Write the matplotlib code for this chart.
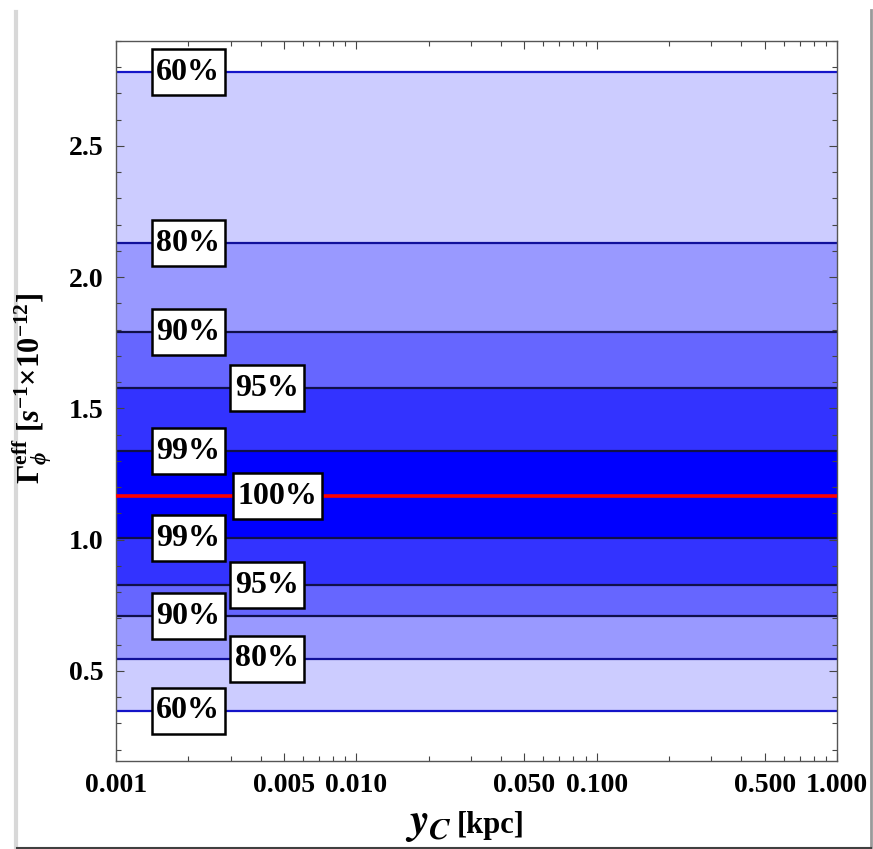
import numpy as np
import matplotlib
matplotlib.use("Agg")
import matplotlib.pyplot as plt
from matplotlib.lines import Line2D
from matplotlib.path import Path
from matplotlib.ticker import FixedLocator, FixedFormatter

plt.rcParams['font.family'] = ['Liberation Serif', 'DejaVu Serif']
plt.rcParams['font.weight'] = 'bold'
plt.rcParams['mathtext.fontset'] = 'custom'
plt.rcParams['mathtext.rm'] = 'Liberation Serif:bold'
plt.rcParams['mathtext.bf'] = 'Liberation Serif:bold'
plt.rcParams['mathtext.it'] = 'Liberation Serif:italic:bold'

# Confidence contours of the effective rate (constant along y_C)
levels = ["60%", "80%", "90%", "95%", "99%"]
upper = [2.781, 2.130, 1.791, 1.578, 1.338]
lower = [0.348, 0.546, 0.709, 0.827, 1.006]
best_fit = 1.166

band_colors = ["#ccccff", "#9999ff", "#6666ff", "#3333ff", "#0000ff"]
line_colors = ["#1414c8", "#10109a", "#10104a", "#10104a", "#10104a"]

# label x-positions (kpc) for upper and lower contour labels
upper_label_x = [0.0020, 0.0020, 0.0020, 0.00425, 0.0020]
lower_label_x = [0.0020, 0.00425, 0.0020, 0.00425, 0.0020]
best_label_x = 0.0047

x_ticks = [0.001, 0.005, 0.010, 0.050, 0.100, 0.500, 1.000]
x_ticklabels = ["0.001", "0.005", "0.010", "0.050", "0.100", "0.500", "1.000"]
y_ticks = [0.5, 1.0, 1.5, 2.0, 2.5]
y_ticklabels = ["0.5", "1.0", "1.5", "2.0", "2.5"]


def label_box(x0, y0, width, height, mutation_size):
    """Rectangle with separate horizontal and vertical padding."""
    px = 0.15 * mutation_size
    py = 0.26 * mutation_size
    x0, y0 = x0 - px, y0 - py
    x1, y1 = x0 + width + 2 * px, y0 + height + 2 * py
    return Path([(x0, y0), (x1, y0), (x1, y1), (x0, y1), (x0, y0)],
                closed=True)


fig = plt.figure(figsize=(8.73, 8.49), dpi=100)
ax = fig.add_axes([116/873, 1 - 761/849, (837-116)/873, (761-41)/849])

xs = np.array([1e-3, 1.0])
for k in range(len(levels)):
    if k + 1 < len(levels):
        ax.fill_between(xs, upper[k + 1], upper[k], color=band_colors[k], lw=0, zorder=1)
        ax.fill_between(xs, lower[k], lower[k + 1], color=band_colors[k], lw=0, zorder=1)
    else:
        ax.fill_between(xs, lower[k], upper[k], color=band_colors[k], lw=0, zorder=1)

for k in range(len(levels)):
    ax.axhline(upper[k], color=line_colors[k], lw=1.6, zorder=2)
    ax.axhline(lower[k], color=line_colors[k], lw=1.6, zorder=2)
ax.axhline(best_fit, color="#ff0000", lw=2.6, zorder=3)

box = dict(boxstyle=label_box, fc="white", ec="black", lw=1.8)
for k, lab in enumerate(levels):
    ax.text(upper_label_x[k], upper[k], lab, fontsize=23, fontweight='bold',
            ha='center', va='center', bbox=box, zorder=5)
    ax.text(lower_label_x[k], lower[k], lab, fontsize=23, fontweight='bold',
            ha='center', va='center', bbox=box, zorder=5)
ax.text(best_label_x, best_fit, "100%", fontsize=23, fontweight='bold',
        ha='center', va='center', bbox=box, zorder=5)

ax.set_xscale('log')
ax.set_xlim(1e-3, 1.0)
ax.set_ylim(0.157, 2.9)

ax.xaxis.set_major_locator(FixedLocator(x_ticks))
ax.xaxis.set_major_formatter(FixedFormatter(x_ticklabels))
minor_x = [m * 10.0**e for e in (-3, -2, -1) for m in range(1, 10)]
minor_x = [v for v in minor_x if v not in x_ticks and v <= 1.0]
ax.xaxis.set_minor_locator(FixedLocator(minor_x))
ax.xaxis.set_minor_formatter(FixedFormatter([""] * len(minor_x)))

ax.yaxis.set_major_locator(FixedLocator(y_ticks))
ax.yaxis.set_major_formatter(FixedFormatter(y_ticklabels))
ax.yaxis.set_minor_locator(FixedLocator(np.arange(0.2, 2.95, 0.1)))

ax.tick_params(which='both', direction='in', top=True, right=True,
               color='#444444', width=0.8)
ax.tick_params(which='major', length=6, labelsize=20, pad=9)
ax.tick_params(which='minor', length=3.5)
for lab in ax.get_xticklabels() + ax.get_yticklabels():
    lab.set_fontweight('bold')
for sp in ax.spines.values():
    sp.set_color('#555555')
    sp.set_linewidth(1.0)

# axis titles
fig.text(32/873, 1 - 388/849,
         r'$\Gamma_{\phi}^{\mathrm{eff}}\ [s^{-1}{\times}10^{-12}]$',
         rotation=90, ha='center', va='center', fontsize=22)
fig.text(405/873, 1 - 833/849, r'$y_C$', fontsize=32, ha='left',
         va='baseline', math_fontfamily='stix')
fig.text(457/873, 1 - 833/849, '[kpc]', fontsize=22, fontweight='bold',
         ha='left', va='baseline')

# panel frame with drop shadow
fig.add_artist(Line2D([16/873, 16/873], [1 - 847/849, 1 - 12/849],
                      transform=fig.transFigure, color='#d8d8d8', lw=3))
fig.add_artist(Line2D([871/873, 871/873], [1 - 847/849, 1 - 10/849],
                      transform=fig.transFigure, color='#9a9a9a', lw=2))
fig.add_artist(Line2D([17/873, 871/873], [1 - 847.5/849, 1 - 847.5/849],
                      transform=fig.transFigure, color='#404040', lw=1.5))

fig.savefig("out.png", dpi=100)
